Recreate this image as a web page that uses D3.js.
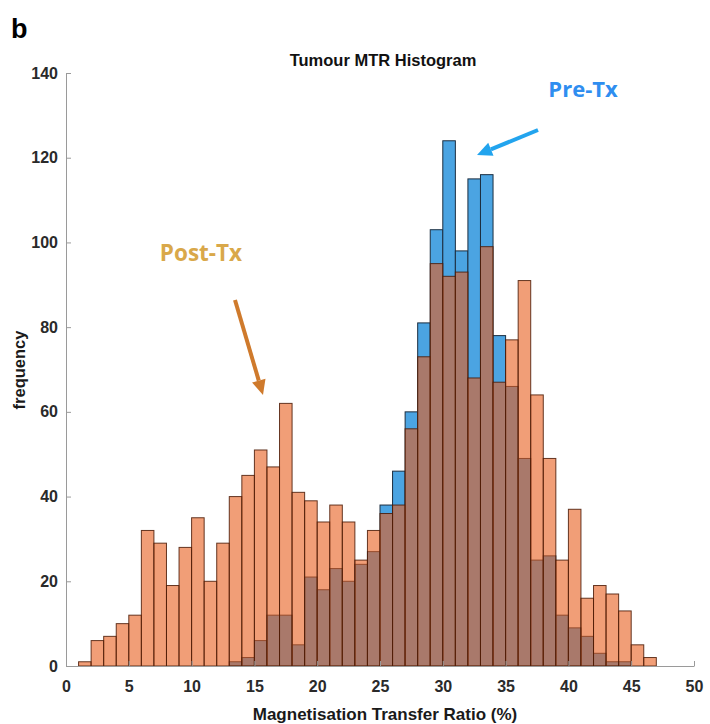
<!DOCTYPE html>
<html>
<head>
<meta charset="utf-8">
<script src="https://cdn.jsdelivr.net/npm/d3@7"></script>
<style>
  body { margin: 0; background: #fff; }
  .axis text { font-family: "Liberation Sans", Arial, sans-serif; font-size: 16px; font-weight: bold; fill: #2a2a2a; }
  .axis path, .axis line { stroke: #9a9a9a; }
</style>
</head>
<body>
<svg id="chart" width="710" height="724"></svg>
<script>
  // bin left edges (bin width 1, MTR %)
  var binStarts = d3.range(1, 47);

  // Post-Tx counts per bin
  var postTx = [1, 6, 7, 10, 12, 32, 29, 19, 28, 35,
                20, 29, 40, 45, 51, 47, 62, 41, 39, 34,
                38, 34, 25, 32, 36, 38, 56, 73, 95, 92,
                93, 68, 99, 67, 77, 91, 64, 49, 25, 37,
                16, 19, 17, 13, 5, 2];

  // Pre-Tx counts per bin
  var preTx = [0, 0, 0, 0, 0, 0, 0, 0, 0, 0,
               0, 0, 1, 2, 6, 12, 12, 5, 21, 18,
               23, 20, 24, 27, 38, 46, 60, 81, 103, 124,
               98, 115, 116, 78, 66, 49, 25, 26, 12, 9,
               7, 3, 1, 1, 0, 0];

  var xTicks = d3.range(0, 51, 5);
  var yTicks = d3.range(0, 141, 20);

  var svg = d3.select('#chart');

  var x = d3.scaleLinear().domain([0, 50]).range([66, 694]);
  var y = d3.scaleLinear().domain([0, 140]).range([666, 73]);

  function bars(values) {
    return binStarts.map(function(b, i) {
      return { x0: b, x1: b + 1, v: values[i] };
    }).filter(function(d) { return d.v > 0; });
  }

  // pre-treatment first, post-treatment laid over with transparency
  svg.append('g')
    .selectAll('rect')
    .data(bars(preTx))
    .enter()
    .append('rect')
    .attr('x', function(d) { return x(d.x0); })
    .attr('width', function(d) { return x(d.x1) - x(d.x0); })
    .attr('y', function(d) { return y(d.v); })
    .attr('height', function(d) { return y(0) - y(d.v); })
    .attr('fill', '#4ba4e2')
    .attr('stroke', '#1c2e40')
    .attr('stroke-width', 1);

  svg.append('g')
    .selectAll('rect')
    .data(bars(postTx))
    .enter()
    .append('rect')
    .attr('x', function(d) { return x(d.x0); })
    .attr('width', function(d) { return x(d.x1) - x(d.x0); })
    .attr('y', function(d) { return y(d.v); })
    .attr('height', function(d) { return y(0) - y(d.v); })
    .attr('fill', '#e85d1c')
    .attr('fill-opacity', 0.6)
    .attr('stroke', '#4a1a06')
    .attr('stroke-opacity', 0.85)
    .attr('stroke-width', 1);

  var yAxis = d3.axisLeft(y)
    .tickValues(yTicks)
    .tickSize(-5)
    .tickSizeOuter(0)
    .tickPadding(8);

  var xAxis = d3.axisBottom(x)
    .tickValues(xTicks)
    .tickSize(-5)
    .tickSizeOuter(0)
    .tickPadding(15);

  svg.append('g')
    .attr('class', 'axis')
    .attr('transform', 'translate(66,0)')
    .call(yAxis);

  svg.append('g')
    .attr('class', 'axis')
    .attr('transform', 'translate(0,666)')
    .call(xAxis);

  svg.selectAll('.axis .domain').attr('stroke', '#9a9a9a');

  // labels
  svg.append('text')
    .attr('x', 11).attr('y', 38)
    .attr('font-family', '"Liberation Sans", Arial, sans-serif')
    .attr('font-weight', 'bold')
    .attr('font-size', 27)
    .text('b');

  svg.append('text')
    .attr('x', 383).attr('y', 66)
    .attr('text-anchor', 'middle')
    .attr('font-family', '"Liberation Sans", Arial, sans-serif')
    .attr('font-weight', 'bold')
    .attr('font-size', 16.5)
    .attr('fill', '#111')
    .text('Tumour MTR Histogram');

  svg.append('text')
    .attr('transform', 'translate(25,370) rotate(-90)')
    .attr('text-anchor', 'middle')
    .attr('font-family', '"Liberation Sans", Arial, sans-serif')
    .attr('font-weight', 'bold')
    .attr('font-size', 16.5)
    .attr('fill', '#1a1a1a')
    .text('frequency');

  svg.append('text')
    .attr('x', 385).attr('y', 720)
    .attr('text-anchor', 'middle')
    .attr('font-family', '"Liberation Sans", Arial, sans-serif')
    .attr('font-weight', 'bold')
    .attr('font-size', 17)
    .attr('fill', '#1a1a1a')
    .text('Magnetisation Transfer Ratio (%)');

  svg.append('text')
    .attr('x', 583).attr('y', 97)
    .attr('text-anchor', 'middle')
    .attr('font-family', '"Open Sans", sans-serif')
    .attr('font-weight', 'bold')
    .attr('font-size', 22)
    .attr('fill', '#2f8ef0')
    .text('Pre-Tx');

  svg.append('text')
    .attr('x', 201).attr('y', 261)
    .attr('text-anchor', 'middle')
    .attr('font-family', '"Open Sans", sans-serif')
    .attr('font-weight', 'bold')
    .attr('font-size', 22.5)
    .attr('fill', '#d9a84a')
    .text('Post-Tx');

  // annotation arrows
  function arrow(x1, y1, x2, y2, color) {
    var a = Math.atan2(y2 - y1, x2 - x1);
    var len = 15, half = 7;
    var bx = x2 - len * Math.cos(a), by = y2 - len * Math.sin(a);
    svg.append('line')
      .attr('x1', x1).attr('y1', y1)
      .attr('x2', bx).attr('y2', by)
      .attr('stroke', color)
      .attr('stroke-width', 4);
    svg.append('path')
      .attr('d', 'M' + x2 + ',' + y2 +
        'L' + (bx + half * Math.sin(a)) + ',' + (by - half * Math.cos(a)) +
        'L' + (bx - half * Math.sin(a)) + ',' + (by + half * Math.cos(a)) + 'Z')
      .attr('fill', color);
  }

  arrow(538, 130, 477, 155, '#22a4ee');
  arrow(235, 300, 263, 395, '#cf7a2c');
</script>
</body>
</html>
